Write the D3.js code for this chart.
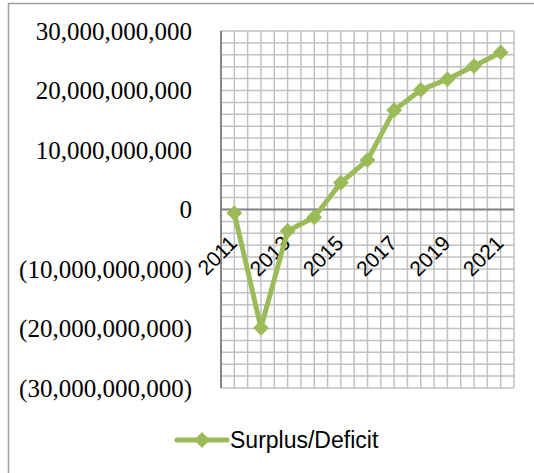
<!DOCTYPE html>
<html><head><meta charset="utf-8">
<script src="https://cdn.jsdelivr.net/npm/d3@7"></script>
<style>body{margin:0;background:#fff}</style>
</head><body>
<script>
const years = ["2011","2012","2013","2014","2015","2016","2017","2018","2019","2020","2021"];
const surplusDeficit = [-0.6e9, -19.9e9, -3.6e9, -1.3e9, 4.5e9, 8.3e9, 16.7e9, 20.1e9, 21.9e9, 24.1e9, 26.4e9];
const yTicks = [30e9, 20e9, 10e9, 0, -10e9, -20e9, -30e9];
const xLabelYears = ["2011","2013","2015","2017","2019","2021"];
const seriesName = "Surplus/Deficit";

(function(){
const W = 534, H = 473;
const svg = d3.select("body").append("svg").attr("width", W).attr("height", H);
svg.append("rect").attr("x", 8.5).attr("y", 3.5).attr("width", 700).attr("height", 700)
  .attr("fill", "#fff").attr("stroke", "#a0a0a0").attr("stroke-width", 1.5);

const pL = 221, pR = 514, pT = 31, pB = 388;
const x = d3.scaleBand().domain(years).range([pL, pR]).padding(0);
const y = d3.scaleLinear().domain([-30e9, 30e9]).range([pB, pT]);

const g = svg.append("g");
const hLines = d3.range(-30e9, 30e9 + 1, 2e9);
g.selectAll("line.h").data(hLines).enter().append("line")
  .attr("x1", pL).attr("x2", pR)
  .attr("y1", d => y(d)).attr("y2", d => y(d))
  .attr("stroke", "#c0c0c0").attr("stroke-width", 1.5);
const vPos = [];
years.forEach(yr => { vPos.push(x(yr)); vPos.push(x(yr) + x.bandwidth() / 2); });
vPos.push(pR);
g.selectAll("line.v").data(vPos).enter().append("line")
  .attr("y1", pT).attr("y2", pB)
  .attr("x1", d => d).attr("x2", d => d)
  .attr("stroke", "#c0c0c0").attr("stroke-width", 1.5);

g.append("line").attr("x1", pL).attr("x2", pL).attr("y1", pT).attr("y2", pB)
  .attr("stroke", "#868686").attr("stroke-width", 2);
g.append("line").attr("x1", pL).attr("x2", pR).attr("y1", y(0)).attr("y2", y(0))
  .attr("stroke", "#868686").attr("stroke-width", 2);

const fmt = v => v < 0 ? "(" + d3.format(",")(-v) + ")" : d3.format(",")(v);
svg.selectAll("text.yl").data(yTicks).enter().append("text")
  .attr("x", 192).attr("y", d => y(d)).attr("dy", "0.34em")
  .attr("text-anchor", "end")
  .attr("font-family", "'Liberation Serif', 'Times New Roman', serif")
  .attr("font-size", 25).attr("fill", "#000")
  .text(fmt);

const cx = d => x(d) + x.bandwidth() / 2;
svg.selectAll("text.xl").data(xLabelYears).enter().append("text")
  .attr("transform", d => `translate(${cx(d) + 4},${y(0) + 35}) rotate(-45)`)
  .attr("text-anchor", "end")
  .attr("font-family", "'Liberation Sans', Arial, sans-serif")
  .attr("font-size", 21).attr("fill", "#000")
  .text(d => d);

const color = "#9bbb59";
const line = d3.line().x((d, i) => cx(years[i])).y(d => y(d));
svg.append("path").datum(surplusDeficit).attr("d", line)
  .attr("fill", "none").attr("stroke", color).attr("stroke-width", 5).attr("stroke-linejoin", "round");
const marker = d3.symbol().type(d3.symbolSquare).size(125);
svg.selectAll("path.m").data(surplusDeficit).enter().append("path")
  .attr("d", marker)
  .attr("transform", (d, i) => `translate(${cx(years[i])},${y(d)}) rotate(45)`)
  .attr("fill", color);

svg.append("line").attr("x1", 177).attr("x2", 227).attr("y1", 440).attr("y2", 440)
  .attr("stroke", color).attr("stroke-width", 5).attr("stroke-linecap", "round");
svg.append("path").attr("d", marker).attr("transform", "translate(202,440) rotate(45)").attr("fill", color);
svg.append("text").attr("x", 230).attr("y", 440).attr("dy", "0.36em")
  .attr("font-family", "'Liberation Sans', Arial, sans-serif")
  .attr("font-size", 23).attr("fill", "#000").text(seriesName);
})();
</script>
</body></html>
